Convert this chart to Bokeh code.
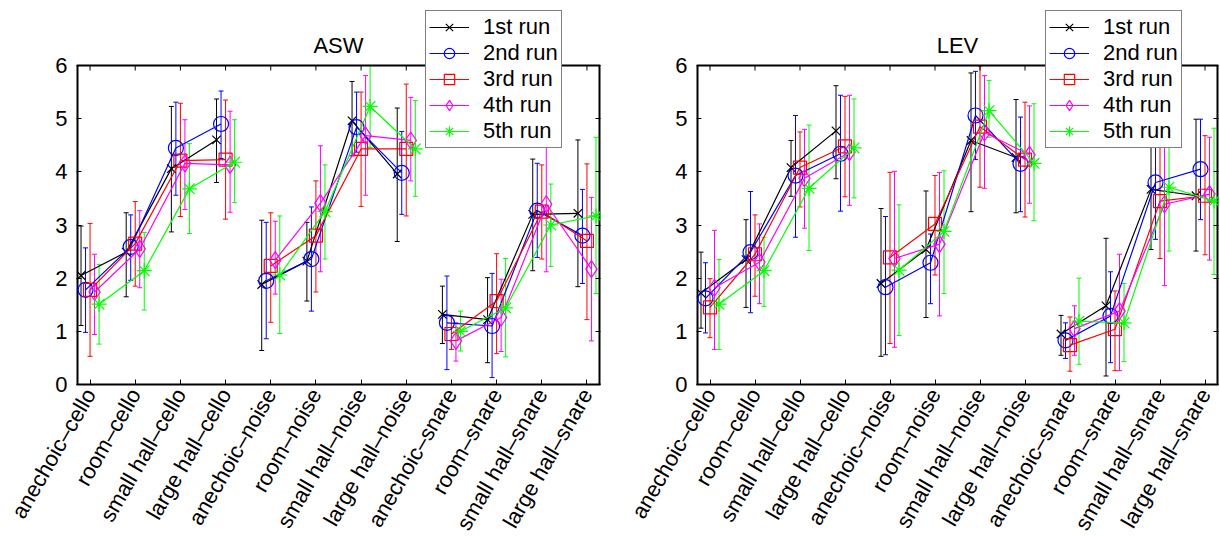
import math
from bokeh.plotting import figure
from bokeh.models import (ColumnDataSource, Whisker, TeeHead, Legend, LegendItem,
                          LinearAxis, FixedTicker, Range1d, CustomJSTickFormatter, Label)
from bokeh.layouts import row
from bokeh.embed import file_html
from bokeh.resources import INLINE

# ---------------- data ----------------
categories = ["anechoic–cello", "room–cello", "small hall–cello", "large hall–cello",
              "anechoic–noise", "room–noise", "small hall–noise", "large hall–noise",
              "anechoic–snare", "room–snare", "small hall–snare", "large hall–snare"]
run_labels = ["1st run", "2nd run", "3rd run", "4th run", "5th run"]
y_ticks = [0, 1, 2, 3, 4, 5, 6]

asw_mean = [
    [2.05, 2.49, 4.06, 4.60, 1.88, 2.32, 4.96, 3.96, 1.32, 1.22, 3.20, 3.22],
    [1.78, 2.59, 4.45, 4.90, 1.95, 2.36, 4.84, 3.98, 1.16, 1.10, 3.27, 2.80],
    [1.78, 2.65, 4.21, 4.23, 2.23, 2.80, 4.43, 4.43, 0.95, 1.57, 3.25, 2.70],
    [1.74, 2.55, 4.16, 4.13, 2.34, 3.41, 4.68, 4.59, 0.82, 1.26, 3.39, 2.17],
    [1.51, 2.14, 3.68, 4.18, 2.06, 3.25, 5.23, 4.43, 1.00, 1.44, 3.00, 3.17],
]
asw_lower = [
    [1.11, 1.65, 2.87, 3.80, 0.64, 1.57, 4.30, 2.69, 0.77, 0.41, 2.14, 1.84],
    [0.98, 1.96, 3.56, 4.25, 0.86, 1.38, 4.37, 3.20, 0.28, 0.13, 2.39, 1.90],
    [0.53, 1.85, 3.16, 3.11, 1.17, 1.74, 3.35, 3.17, 0.66, 0.58, 2.36, 1.22],
    [0.94, 1.82, 3.29, 3.24, 1.70, 2.12, 3.56, 3.83, 0.44, 0.62, 2.12, 0.82],
    [0.76, 1.40, 2.84, 3.42, 0.96, 2.36, 4.46, 3.54, 0.63, 0.52, 2.22, 1.71],
]
asw_upper = [
    [2.98, 3.23, 5.23, 5.37, 3.09, 3.05, 5.70, 5.20, 1.85, 2.01, 4.24, 4.60],
    [2.57, 3.19, 5.31, 5.52, 3.05, 3.34, 5.50, 4.76, 2.04, 2.09, 4.16, 3.67],
    [3.03, 3.44, 5.29, 5.35, 3.23, 3.83, 5.50, 5.65, 1.29, 2.46, 4.13, 4.15],
    [2.45, 3.27, 4.98, 5.14, 3.07, 4.49, 5.81, 5.40, 1.16, 1.98, 4.59, 3.52],
    [2.26, 2.86, 4.53, 4.98, 3.17, 4.13, 6.00, 5.34, 1.38, 2.37, 3.77, 4.65],
]

lev_mean = [
    [1.72, 2.35, 4.08, 4.77, 1.90, 2.54, 4.59, 4.27, 0.95, 1.48, 3.67, 3.55],
    [1.62, 2.49, 3.93, 4.34, 1.83, 2.29, 5.06, 4.15, 0.83, 1.29, 3.80, 4.05],
    [1.45, 2.45, 4.08, 4.48, 2.39, 3.02, 4.85, 4.23, 0.74, 1.04, 3.45, 3.55],
    [1.82, 2.30, 3.88, 4.37, 2.37, 2.64, 4.74, 4.32, 1.05, 1.38, 3.39, 3.58],
    [1.51, 2.14, 3.69, 4.45, 2.15, 2.88, 5.15, 4.16, 1.19, 1.16, 3.71, 3.45],
]
lev_lower = [
    [1.06, 1.45, 3.54, 3.87, 0.53, 1.26, 3.25, 3.23, 0.55, 0.16, 2.54, 2.51],
    [0.97, 1.35, 2.77, 3.26, 0.56, 1.52, 4.23, 3.25, 0.49, 0.41, 2.73, 3.10],
    [0.88, 1.66, 3.34, 3.53, 0.77, 2.06, 3.71, 3.15, 0.25, 0.26, 2.37, 2.44],
    [0.66, 1.52, 2.94, 3.37, 0.70, 1.29, 3.69, 3.41, 0.55, 0.26, 1.86, 2.34],
    [0.66, 1.47, 2.52, 3.51, 0.92, 1.71, 4.65, 3.08, 0.38, 0.43, 2.51, 2.07],
]
lev_upper = [
    [2.49, 3.10, 4.59, 5.62, 3.31, 3.64, 5.86, 5.36, 1.30, 2.75, 4.72, 4.99],
    [2.29, 3.63, 5.06, 5.44, 3.16, 2.83, 5.89, 5.03, 1.16, 2.12, 4.75, 4.99],
    [1.99, 3.19, 4.75, 5.42, 3.99, 3.93, 5.99, 5.31, 1.27, 1.76, 4.55, 4.68],
    [2.90, 3.02, 4.80, 5.44, 4.01, 3.99, 5.81, 5.24, 1.48, 2.45, 4.59, 4.65],
    [2.35, 2.77, 4.88, 5.37, 3.38, 4.02, 5.72, 5.28, 2.00, 1.90, 4.62, 4.82],
]

# ---------------- styles / layout constants ----------------
run_colors = ["#000000", "#0000ff", "#ff0000", "#ff00ff", "#00ff00"]
run_markers = ["x", "circle", "square", "diamond", "asterisk"]
run_sizes = [12, 15, 13, 17, 15]
run_offsets = [-0.2, -0.1, 0.0, 0.1, 0.2]
group_size = 4
FONT = "Liberation Sans"
X_LO, X_HI = 0.7, 12.3
Y_LO, Y_HI = 0.0, 6.0
BOX_PX = 319          # pixel height of the axes box
FRAME_PX = 380        # frame extends above the box so the legend can overflow it
TICK_PX = 5


def make_panel(title, means, lowers, uppers, border_left, frame_w, border_right):
    y_top = Y_HI * FRAME_PX / BOX_PX
    p = figure(frame_width=frame_w, frame_height=FRAME_PX,
               min_border_left=border_left, min_border_right=border_right,
               min_border_top=4, min_border_bottom=150,
               x_range=Range1d(X_LO, X_HI), y_range=Range1d(Y_LO, y_top),
               output_backend="svg", toolbar_location=None)
    p.xgrid.visible = False
    p.ygrid.visible = False
    p.outline_line_color = None
    p.background_fill_color = "white"
    p.border_fill_color = "white"

    n = len(categories)
    xt = list(range(1, n + 1))
    xa = p.xaxis[0]
    xa.ticker = FixedTicker(ticks=xt)
    xa.major_label_overrides = {i + 1: c for i, c in enumerate(categories)}
    xa.major_label_orientation = math.pi / 3
    ya = p.yaxis[0]
    ya.ticker = FixedTicker(ticks=y_ticks)
    for ax in (xa, ya):
        ax.major_label_text_font = FONT
        ax.major_label_text_font_size = "22px"
        ax.major_label_text_color = "black"
        ax.major_tick_in = TICK_PX
        ax.major_tick_out = 0
        ax.minor_tick_in = 0
        ax.minor_tick_out = 0
        ax.major_tick_line_width = 1
    xa.axis_line_width = 2
    ya.axis_line_color = None
    xa.major_label_standoff = 6
    ya.major_label_standoff = 9

    empty = CustomJSTickFormatter(code="return ''")
    right = LinearAxis(ticker=FixedTicker(ticks=y_ticks), formatter=empty,
                       major_tick_in=TICK_PX, major_tick_out=0, minor_tick_in=0, minor_tick_out=0,
                       axis_line_color=None, major_label_standoff=0)
    p.add_layout(right, "right")

    # axes box (top, left, right edges) and top tick marks
    p.segment(x0=[X_LO], y0=[Y_HI], x1=[X_HI], y1=[Y_HI], line_color="black", line_width=2)
    p.segment(x0=[X_LO, X_HI], y0=[Y_LO, Y_LO], x1=[X_LO, X_HI], y1=[Y_HI, Y_HI],
              line_color="black", line_width=4)
    tick_len = TICK_PX * Y_HI / BOX_PX
    p.segment(x0=xt, y0=[Y_HI] * n, x1=xt, y1=[Y_HI - tick_len] * n,
              line_color="black", line_width=1)

    items = []
    for r in range(len(run_labels)):
        col = run_colors[r]
        xs = [i + 1 + run_offsets[r] for i in range(n)]
        lx, ly = [], []
        for i in range(n):
            lx.append(xs[i])
            ly.append(means[r][i])
            if (i + 1) % group_size == 0 and i + 1 < n:
                lx.append(float("nan"))
                ly.append(float("nan"))
        src = ColumnDataSource(dict(x=xs, y=means[r], lo=lowers[r], hi=uppers[r]))
        w = Whisker(base="x", upper="hi", lower="lo", source=src,
                    line_color=col, line_width=1,
                    upper_head=TeeHead(size=5, line_color=col, line_width=1),
                    lower_head=TeeHead(size=5, line_color=col, line_width=1))
        p.add_layout(w)
        lr = p.line(lx, ly, line_color=col, line_width=1.2)
        sr = p.scatter("x", "y", source=src, marker=run_markers[r], size=run_sizes[r],
                       line_color=col, fill_color=None, line_width=1.2)
        items.append(LegendItem(label=run_labels[r], renderers=[lr, sr]))

    # title just above the axes box
    p.add_layout(Label(x=(X_LO + X_HI) / 2, y=Y_HI, y_offset=8, text=title,
                       text_align="center", text_baseline="bottom",
                       text_font=FONT, text_font_size="22px", text_color="black"))

    leg = Legend(items=items, location=(349, 236))
    leg.label_text_font = FONT
    leg.label_text_font_size = "22px"
    leg.label_text_color = "black"
    leg.glyph_width = 40
    leg.glyph_height = 26
    leg.label_height = 26
    leg.spacing = 0
    leg.padding = 3
    leg.margin = 0
    leg.label_standoff = 14
    leg.border_line_color = "black"
    leg.border_line_width = 1.5
    leg.background_fill_color = "white"
    leg.background_fill_alpha = 1
    p.add_layout(leg, "center")
    return p


p1 = make_panel("ASW", asw_mean, asw_lower, asw_upper, 76, 524, 10)
p2 = make_panel("LEV", lev_mean, lev_lower, lev_upper, 86, 522, 1)
layout = row(p1, p2)

open("out.html", "w").write(file_html(layout, INLINE))
